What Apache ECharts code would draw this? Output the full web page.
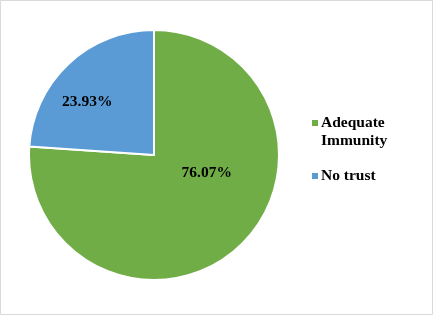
<!DOCTYPE html>
<html>
<head>
<meta charset="utf-8">
<script src="https://cdn.jsdelivr.net/npm/echarts@6/dist/echarts.min.js"></script>
<style>
html,body{margin:0;padding:0;background:#fff;}
#chart{width:434px;height:318px;}
</style>
</head>
<body>
<div id="chart"></div>
<script>
var categories = ['Adequate Immunity', 'No trust'];
var values = [76.07, 23.93];
var colors = ['#70AD47', '#5B9BD5'];
var legendLabels = ['\nAdequate\nImmunity', 'No trust'];
var labelOffsets = [[8, -30], [-22, -5]];

var chart = echarts.init(document.getElementById('chart'));
var font = '"Liberation Serif", "Times New Roman", serif';
chart.setOption({
  animation: false,
  graphic: [{
    type: 'rect',
    shape: {x: 0.5, y: 0.5, width: 432, height: 314},
    style: {fill: 'none', stroke: '#d9d9d9', lineWidth: 1}
  }],
  legend: {
    orient: 'vertical',
    left: 310,
    top: 96,
    padding: 0,
    itemGap: 17,
    itemWidth: 8,
    itemHeight: 8,
    icon: 'rect',
    textStyle: {fontFamily: font, fontWeight: 'bold', fontSize: 15.5, color: '#000', lineHeight: 18, padding: [0, 0, 0, -3]},
    formatter: function (n) { return legendLabels[categories.indexOf(n)]; },
    data: categories
  },
  series: [{
    type: 'pie',
    center: [154, 155],
    radius: 125,
    startAngle: 90,
    clockwise: true,
    itemStyle: {borderColor: '#fff', borderWidth: 2},
    label: {
      position: 'inside',
      fontFamily: font, fontWeight: 'bold', fontSize: 15.5, color: '#000',
      formatter: function (p) { return p.value.toFixed(2) + '%'; }
    },
    labelLine: {show: false},
    emphasis: {disabled: true},
    data: categories.map(function (c, i) {
      return {name: c, value: values[i], itemStyle: {color: colors[i]}, label: {offset: labelOffsets[i]}};
    })
  }]
});
</script>
</body>
</html>
